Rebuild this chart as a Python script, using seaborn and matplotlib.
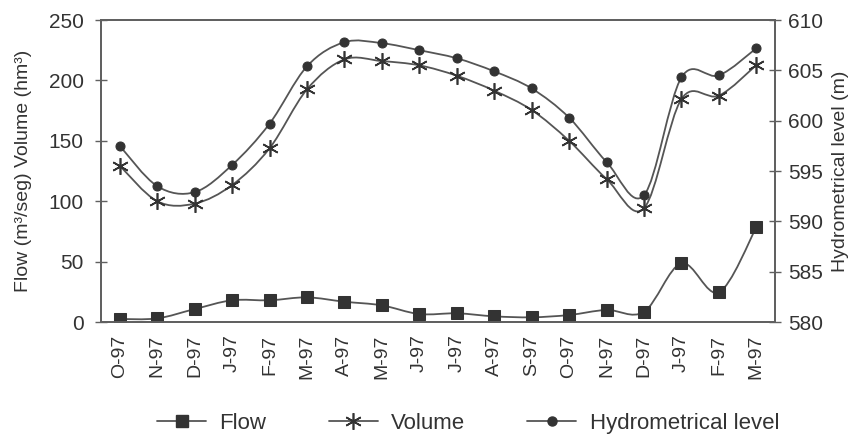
import numpy as np
import matplotlib
matplotlib.use("Agg")
import matplotlib.pyplot as plt
import seaborn as sns
from matplotlib.path import Path
from matplotlib.patches import PathPatch
from matplotlib.lines import Line2D

months = ["O-97", "N-97", "D-97", "J-97", "F-97", "M-97", "A-97", "M-97", "J-97",
          "J-97", "A-97", "S-97", "O-97", "N-97", "D-97", "J-97", "F-97", "M-97"]
flow = [2.5, 3, 10.7, 18, 18, 20.4, 16.8, 13.8, 6.6, 7.2, 4.7, 3.9, 5.8, 10, 8.5, 48.6, 24.6, 78.4]
volume = [129.4, 100, 98, 113.4, 143.8, 192.6, 217.4, 216, 212.5, 203.9, 191.5, 175.5,
          150, 118.4, 94.2, 184.6, 187.4, 212.7]
level = [597.5, 593.5, 592.9, 595.6, 599.7, 605.4, 607.8, 607.7, 607.0, 606.2, 604.9,
         603.2, 600.3, 595.9, 592.6, 604.3, 604.5, 607.2]

sns.set_style("white")
plt.rcParams['font.family'] = ['Liberation Sans', 'DejaVu Sans']

LINE = "#555555"
MARK = "#333333"
SPINE = "#606060"

fig = plt.figure(figsize=(8.59, 4.41), dpi=100)
ax = fig.add_axes([0.1176, 0.2698, 0.7847, 0.6848])
ax2 = ax.twinx()

x = np.arange(len(months))


def smooth(axis, xs, ys, color):
    xs = np.asarray(xs, float)
    ys = np.asarray(ys, float)
    P = np.column_stack([xs, ys])
    Pp = np.vstack([P[0], P, P[-1]])
    verts = [tuple(P[0])]
    codes = [Path.MOVETO]
    for i in range(len(P) - 1):
        p0, p1, p2, p3 = Pp[i], Pp[i + 1], Pp[i + 2], Pp[i + 3]
        c1 = p1 + (p2 - p0) / 6.0
        c2 = p2 - (p3 - p1) / 6.0
        verts += [tuple(c1), tuple(c2), tuple(p2)]
        codes += [Path.CURVE4] * 3
    patch = PathPatch(Path(verts, codes), facecolor="none", edgecolor=color, lw=1.3, zorder=2)
    axis.add_patch(patch)


smooth(ax, x, flow, LINE)
smooth(ax, x, volume, LINE)
smooth(ax2, x, level, LINE)

sns.lineplot(x=x, y=flow, ax=ax, marker="s", markersize=8, linestyle="none",
             color=MARK, markeredgecolor=MARK, zorder=3)
sns.lineplot(x=x, y=volume, ax=ax, marker=(6, 2, 0), markersize=12, linestyle="none",
             color=MARK, markeredgecolor=MARK, markeredgewidth=1.2, zorder=3)
sns.lineplot(x=x, y=level, ax=ax2, marker="o", markersize=6.5, linestyle="none",
             color=MARK, markeredgecolor=MARK, zorder=3)

ax.set_xlim(-0.5, len(months) - 0.5)
ax.set_ylim(0, 250)
ax2.set_ylim(580, 610)
ax.set_yticks(np.arange(0, 251, 50))
ax2.set_yticks(np.arange(580, 611, 5))
ax.set_xticks(x)
ax.set_xticklabels(months, rotation=90)
ax.set_xticks(np.arange(0.5, len(months) - 1, 1.0), minor=True)

ax.tick_params(axis="x", which="major", length=0, pad=9, labelsize=14, colors="#333333")
ax.tick_params(axis="x", which="minor", length=9, direction="inout", color=SPINE, width=1)
ax.tick_params(axis="y", length=9, direction="inout", color=SPINE, width=1,
               labelsize=15, labelcolor="#333333", pad=8)
ax2.tick_params(axis="y", length=9, direction="inout", color=SPINE, width=1,
                labelsize=15, labelcolor="#333333", pad=5)

for a in (ax, ax2):
    for s in a.spines.values():
        s.set_color(SPINE)
        s.set_linewidth(1.3)
    a.grid(False)

ax.set_ylabel("Flow (m³/seg) Volume (hm³)", fontsize=14, color="#333333", labelpad=12)
ax2.set_ylabel("Hydrometrical level (m)", fontsize=14, color="#333333", labelpad=6)
ax.set_xlabel("")

handles = [
    Line2D([], [], color=LINE, lw=1.3, marker="s", markersize=8, markerfacecolor=MARK, markeredgecolor=MARK),
    Line2D([], [], color=LINE, lw=1.3, marker=(6, 2, 0), markersize=12, markeredgecolor=MARK, markeredgewidth=1.2),
    Line2D([], [], color=LINE, lw=1.3, marker="o", markersize=6.5, markerfacecolor=MARK, markeredgecolor=MARK),
]
fig.legend(handles, ["Flow", "Volume", "Hydrometrical level"], loc="lower center",
           bbox_to_anchor=(0.545, -0.03), ncol=3, frameon=False, fontsize=16,
           handlelength=2.2, columnspacing=2.8, handletextpad=0.6, labelcolor="#333333")

fig.savefig("out.png", dpi=100)
